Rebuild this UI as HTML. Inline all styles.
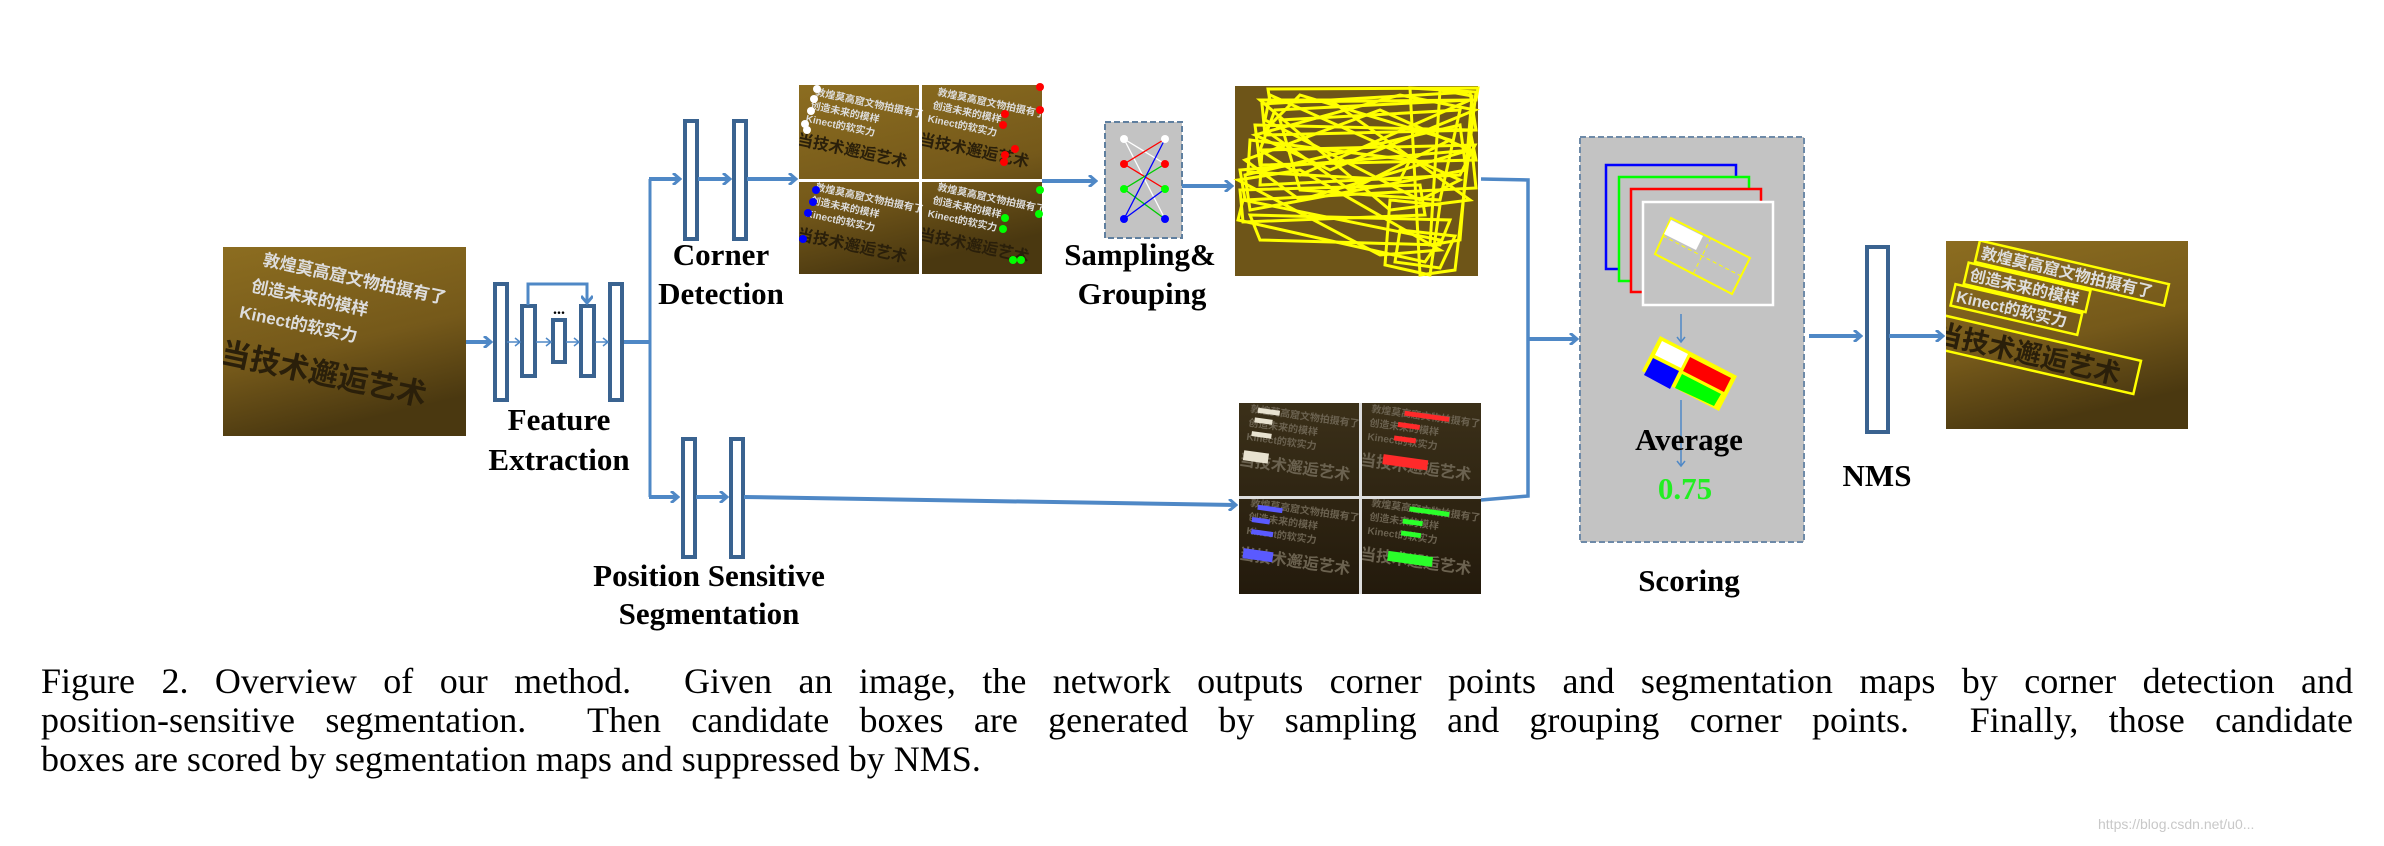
<!DOCTYPE html>
<html><head><meta charset="utf-8"><style>
html,body{margin:0;padding:0;background:#fff;}
body{width:2384px;height:846px;position:relative;overflow:hidden;}
svg{position:absolute;left:0;top:0;}
.cap{position:absolute;left:41px;width:2312px;font-family:"Liberation Serif",serif;font-size:36px;line-height:39px;color:#000;white-space:nowrap;}
.j{text-align:justify;text-align-last:justify;white-space:normal;}
.lb{font-family:"Liberation Serif",serif;font-weight:bold;font-size:31px;fill:#000;}
.cn{font-family:"Liberation Sans","Noto Sans CJK SC",sans-serif;font-weight:bold;}
</style></head><body>
<svg width="2384" height="846" viewBox="0 0 2384 846">
<defs>
<marker id="ah" markerWidth="10" markerHeight="12" refX="8" refY="6" orient="auto" markerUnits="userSpaceOnUse">
<polyline points="1,0 8,6 1,12" fill="none" stroke="#4f88c6" stroke-width="3"/></marker>
<marker id="as" markerWidth="8" markerHeight="10" refX="6" refY="5" orient="auto" markerUnits="userSpaceOnUse">
<polyline points="1,1 6,5 1,9" fill="none" stroke="#4f88c6" stroke-width="1.5"/></marker>
<linearGradient id="br" x1="0" y1="0" x2="0.3" y2="1"><stop offset="0" stop-color="#8c6d20"/><stop offset="0.6" stop-color="#75591a"/><stop offset="1" stop-color="#4a3810"/></linearGradient>
<linearGradient id="dk" x1="0" y1="0" x2="0" y2="1"><stop offset="0" stop-color="#3b3019"/><stop offset="1" stop-color="#231a0c"/></linearGradient>
<clipPath id="c1"><rect x="223" y="247" width="243" height="189"/></clipPath>
<clipPath id="c2"><rect x="799" y="85" width="243" height="189"/></clipPath>
<clipPath id="c3"><rect x="1239" y="403" width="242" height="191"/></clipPath>
<clipPath id="c4"><rect x="1946" y="241" width="242" height="188"/></clipPath>
</defs>

<rect x="223" y="247" width="243" height="189" fill="url(#br)"/>
<g class="cn" clip-path="url(#c1)"><g transform="translate(262,265) rotate(12)" fill="#ddd">
<text x="0" y="0" font-size="17">敦煌莫高窟文物拍摄有了</text>
<text x="-6" y="28" font-size="17">创造未来的模样</text>
<text x="-12" y="56" font-size="17">Kinect的软实力</text>
<text x="-22" y="104" font-size="30" fill="#2a1f0a">当技术邂逅艺术</text>
</g></g>

<line x1="466" y1="342" x2="491" y2="342" stroke="#4f88c6" stroke-width="4" marker-end="url(#ah)"/>
<g fill="#fff" stroke="#3a6390" stroke-width="4">
<rect x="495" y="284" width="12" height="116"/>
<rect x="522" y="306" width="13" height="70"/>
<rect x="553" y="320" width="12" height="42"/>
<rect x="581" y="306" width="13" height="70"/>
<rect x="610" y="284" width="12" height="116"/>
</g>
<g stroke="#4f88c6" stroke-width="1.5" fill="none">
<line x1="507" y1="342" x2="520" y2="342" marker-end="url(#as)"/>
<line x1="536" y1="342" x2="551" y2="342" marker-end="url(#as)"/>
<line x1="566" y1="342" x2="579" y2="342" marker-end="url(#as)"/>
<line x1="595" y1="342" x2="608" y2="342" marker-end="url(#as)"/>
</g>
<polyline points="528,305 528,284 587,284 587,303" fill="none" stroke="#4f88c6" stroke-width="3" marker-end="url(#ah)"/>
<text x="553" y="314" font-size="16" font-family="Liberation Serif" font-weight="bold">...</text>
<text class="lb" x="559" y="430" text-anchor="middle">Feature</text>
<text class="lb" x="559" y="470" text-anchor="middle">Extraction</text>

<polyline points="624,342 650,342" fill="none" stroke="#4f88c6" stroke-width="4"/>
<polyline points="650,179 650,497" fill="none" stroke="#4f88c6" stroke-width="3"/>
<line x1="649" y1="179" x2="680" y2="179" stroke="#4f88c6" stroke-width="4" marker-end="url(#ah)"/>
<line x1="649" y1="497" x2="678" y2="497" stroke="#4f88c6" stroke-width="4" marker-end="url(#ah)"/>

<g fill="#fff" stroke="#3a6390" stroke-width="4">
<rect x="685" y="121" width="12" height="118"/>
<rect x="734" y="121" width="12" height="118"/>
<rect x="683" y="439" width="12" height="118"/>
<rect x="731" y="439" width="12" height="118"/>
</g>
<line x1="698" y1="179" x2="730" y2="179" stroke="#4f88c6" stroke-width="4" marker-end="url(#ah)"/>
<line x1="747" y1="179" x2="796" y2="179" stroke="#4f88c6" stroke-width="4" marker-end="url(#ah)"/>
<line x1="696" y1="497" x2="727" y2="497" stroke="#4f88c6" stroke-width="4" marker-end="url(#ah)"/>
<text class="lb" x="721" y="265" text-anchor="middle">Corner</text>
<text class="lb" x="721" y="304" text-anchor="middle">Detection</text>
<text class="lb" x="709" y="586" text-anchor="middle">Position Sensitive</text>
<text class="lb" x="709" y="624" text-anchor="middle">Segmentation</text>

<g>
<rect x="799" y="85" width="243" height="189" fill="url(#br)"/>
<g class="cn" fill="#ddd" font-size="10" clip-path="url(#c2)">
<g transform="translate(815,95) rotate(12)"><text>敦煌莫高窟文物拍摄有了</text><text x="-2" y="14">创造未来的模样</text><text x="-4" y="28">Kinect的软实力</text><text x="-8" y="52" font-size="16" fill="#2a1f0a">当技术邂逅艺术</text></g>
<g transform="translate(937,95) rotate(12)"><text>敦煌莫高窟文物拍摄有了</text><text x="-2" y="14">创造未来的模样</text><text x="-4" y="28">Kinect的软实力</text><text x="-8" y="52" font-size="16" fill="#2a1f0a">当技术邂逅艺术</text></g>
<g transform="translate(815,190) rotate(12)"><text>敦煌莫高窟文物拍摄有了</text><text x="-2" y="14">创造未来的模样</text><text x="-4" y="28">Kinect的软实力</text><text x="-8" y="52" font-size="16" fill="#2a1f0a">当技术邂逅艺术</text></g>
<g transform="translate(937,190) rotate(12)"><text>敦煌莫高窟文物拍摄有了</text><text x="-2" y="14">创造未来的模样</text><text x="-4" y="28">Kinect的软实力</text><text x="-8" y="52" font-size="16" fill="#2a1f0a">当技术邂逅艺术</text></g>
</g>
<rect x="919" y="85" width="3" height="189" fill="#fff"/>
<rect x="799" y="179" width="243" height="3" fill="#fff"/>
<g fill="#fff"><circle cx="817" cy="89" r="4"/><circle cx="814" cy="99" r="4"/><circle cx="811" cy="111" r="4"/><circle cx="805" cy="124" r="4"/><circle cx="807" cy="130" r="4"/></g>
<g fill="#f00"><circle cx="1040" cy="87" r="4"/><circle cx="1040" cy="110" r="4"/><circle cx="1005" cy="114" r="4"/><circle cx="1003" cy="125" r="4"/><circle cx="1015" cy="149" r="4"/><circle cx="1005" cy="155" r="4"/><circle cx="1004" cy="162" r="4"/></g>
<g fill="#00f"><circle cx="816" cy="190" r="4"/><circle cx="813" cy="202" r="4"/><circle cx="808" cy="213" r="4"/><circle cx="803" cy="239" r="4"/></g>
<g fill="#0f0"><circle cx="1040" cy="190" r="4"/><circle cx="1005" cy="218" r="4"/><circle cx="1039" cy="214" r="4"/><circle cx="1003" cy="229" r="4"/><circle cx="1013" cy="260" r="4"/><circle cx="1021" cy="260" r="4"/></g>
</g>

<line x1="1042" y1="181" x2="1096" y2="181" stroke="#4f88c6" stroke-width="4" marker-end="url(#ah)"/>
<rect x="1105" y="122" width="77" height="116" fill="#c3c3c3" stroke="#5f7f9f" stroke-width="2" stroke-dasharray="6,3"/>
<g stroke-width="1.3">
<line x1="1124" y1="139" x2="1165" y2="164" stroke="#fff"/>
<line x1="1124" y1="139" x2="1165" y2="219" stroke="#fff"/>
<line x1="1124" y1="164" x2="1165" y2="139" stroke="#f00"/>
<line x1="1124" y1="164" x2="1165" y2="189" stroke="#f00"/>
<line x1="1124" y1="189" x2="1165" y2="164" stroke="#0c0"/>
<line x1="1124" y1="189" x2="1165" y2="219" stroke="#0c0"/>
<line x1="1124" y1="219" x2="1165" y2="139" stroke="#00f"/>
<line x1="1124" y1="219" x2="1165" y2="189" stroke="#00f"/>
</g>
<circle cx="1124" cy="139" r="4" fill="#fff"/><circle cx="1165" cy="139" r="4" fill="#fff"/>
<circle cx="1124" cy="164" r="4" fill="#f00"/><circle cx="1165" cy="164" r="4" fill="#f00"/>
<circle cx="1124" cy="189" r="4" fill="#0f0"/><circle cx="1165" cy="189" r="4" fill="#0f0"/>
<circle cx="1124" cy="219" r="4" fill="#00f"/><circle cx="1165" cy="219" r="4" fill="#00f"/>
<text class="lb" x="1140" y="265" text-anchor="middle">Sampling&amp;</text>
<text class="lb" x="1142" y="304" text-anchor="middle">Grouping</text>

<line x1="1182" y1="186" x2="1232" y2="186" stroke="#4f88c6" stroke-width="4" marker-end="url(#ah)"/>
<rect x="1235" y="86" width="243" height="190" fill="#6e5518"/>
<g fill="none" stroke="#ffff00" stroke-width="3">
<polygon points="1268,89 1478,88 1476,100 1270,102"/>
<polygon points="1262,104 1470,92 1476,130 1265,135"/>
<polygon points="1255,125 1470,130 1476,160 1260,165"/>
<polygon points="1250,140 1410,160 1400,180 1248,172"/>
<polygon points="1240,170 1472,150 1476,188 1245,200"/>
<polygon points="1240,190 1420,185 1425,215 1243,222"/>
<polygon points="1243,200 1440,240 1425,262 1238,220"/>
<polygon points="1250,215 1450,220 1440,245 1260,240"/>
<polygon points="1400,230 1455,236 1440,268 1395,262"/>
<polygon points="1410,88 1476,92 1455,270 1420,275"/>
<polygon points="1440,90 1472,96 1460,240 1430,245"/>
<polygon points="1270,95 1460,180 1420,200 1265,120"/>
<polygon points="1275,110 1470,100 1300,175 1260,150"/>
<polygon points="1300,95 1450,140 1350,190 1265,130"/>
<polygon points="1245,160 1380,110 1470,150 1300,200"/>
<polygon points="1260,100 1330,100 1470,200 1390,210"/>
<polygon points="1238,180 1300,170 1440,250 1380,255"/>
<polygon points="1280,120 1460,110 1440,200 1300,190"/>
<polygon points="1255,135 1400,95 1475,110 1330,170"/>
<polygon points="1245,175 1460,125 1466,170 1250,210"/>
<polygon points="1390,200 1440,205 1430,275 1385,265"/>
<polygon points="1262,150 1475,145 1460,175 1260,185"/>
</g>

<rect x="1239" y="403" width="242" height="191" fill="url(#dk)"/>
<g class="cn" fill="#6b6250" font-size="10" clip-path="url(#c3)">
<g transform="translate(1250,412) rotate(8)"><text>敦煌莫高窟文物拍摄有了</text><text y="14">创造未来的模样</text><text y="28">Kinect的软实力</text><text x="-4" y="54" font-size="16">当技术邂逅艺术</text></g>
<g transform="translate(1371,412) rotate(8)"><text>敦煌莫高窟文物拍摄有了</text><text y="14">创造未来的模样</text><text y="28">Kinect的软实力</text><text x="-4" y="54" font-size="16">当技术邂逅艺术</text></g>
<g transform="translate(1250,506) rotate(8)"><text>敦煌莫高窟文物拍摄有了</text><text y="14">创造未来的模样</text><text y="28">Kinect的软实力</text><text x="-4" y="54" font-size="16">当技术邂逅艺术</text></g>
<g transform="translate(1371,506) rotate(8)"><text>敦煌莫高窟文物拍摄有了</text><text y="14">创造未来的模样</text><text y="28">Kinect的软实力</text><text x="-4" y="54" font-size="16">当技术邂逅艺术</text></g>
</g>
<g fill="#e8e2d0" transform="rotate(8 1260 410)"><rect x="1258" y="408" width="22" height="5"/><rect x="1256" y="418" width="18" height="5"/><rect x="1255" y="432" width="20" height="5"/><rect x="1250" y="452" width="25" height="10"/></g>
<g fill="#ff2a2a" transform="rotate(8 1400 410)"><rect x="1405" y="410" width="45" height="5"/><rect x="1400" y="422" width="22" height="5"/><rect x="1398" y="436" width="22" height="5"/><rect x="1390" y="456" width="45" height="10"/></g>
<g fill="#5a5aff" transform="rotate(8 1260 505)"><rect x="1258" y="505" width="25" height="5"/><rect x="1254" y="518" width="18" height="5"/><rect x="1255" y="530" width="22" height="5"/><rect x="1250" y="550" width="30" height="10"/></g>
<g fill="#2aff2a" transform="rotate(8 1400 505)"><rect x="1410" y="505" width="40" height="5"/><rect x="1405" y="518" width="20" height="5"/><rect x="1405" y="530" width="20" height="5"/><rect x="1395" y="552" width="45" height="10"/></g>
<rect x="1359" y="403" width="3" height="191" fill="#ddd"/>
<rect x="1239" y="496" width="242" height="3" fill="#ddd"/>

<line x1="744" y1="497" x2="1236" y2="505" stroke="#4f88c6" stroke-width="4" marker-end="url(#ah)"/>
<polyline points="1481,179 1528,180 1528,496 1481,500" fill="none" stroke="#4f88c6" stroke-width="3.5"/>
<line x1="1528" y1="339" x2="1577" y2="339" stroke="#4f88c6" stroke-width="4" marker-end="url(#ah)"/>

<rect x="1580" y="137" width="224" height="405" fill="#c3c3c3" stroke="#6e8aa8" stroke-width="2" stroke-dasharray="6,3"/>
<rect x="1606" y="165" width="130" height="104" fill="none" stroke="#00f" stroke-width="2.5"/>
<rect x="1619" y="177" width="130" height="104" fill="#c3c3c3" stroke="#0f0" stroke-width="2.5"/>
<rect x="1631" y="189" width="130" height="103" fill="#c3c3c3" stroke="#f00" stroke-width="2.5"/>
<rect x="1643" y="202" width="130" height="103" fill="#c3c3c3" stroke="#fff" stroke-width="2.5"/>
<polygon points="1671,218 1750,258 1732,294 1655,254" fill="none" stroke="#ff0" stroke-width="2"/>
<polygon points="1671,220 1703,236 1696,250 1664,234" fill="#fff"/>
<line x1="1663" y1="236" x2="1741" y2="276" stroke="#ff0" stroke-width="1" stroke-dasharray="4,3"/>
<line x1="1711" y1="238" x2="1693" y2="274" stroke="#ff0" stroke-width="1" stroke-dasharray="4,3"/>
<line x1="1681" y1="314" x2="1681" y2="342" stroke="#4f88c6" stroke-width="1.5" marker-end="url(#as)"/>
<polygon points="1660,336 1737,376 1719,411 1642,371" fill="#ff0"/>
<polygon points="1662,341 1688,354 1681,368 1655,355" fill="#fff"/>
<polygon points="1690,357 1731,378 1724,392 1683,371" fill="#f00"/>
<polygon points="1653,358 1679,371 1670,389 1644,375" fill="#00f"/>
<polygon points="1682,374 1721,394 1714,406 1675,388" fill="#0f0"/>
<line x1="1681" y1="400" x2="1681" y2="466" stroke="#4f88c6" stroke-width="1.5" marker-end="url(#as)"/>
<text class="lb" x="1689" y="450" text-anchor="middle">Average</text>
<text class="lb" x="1685" y="499" text-anchor="middle" style="fill:#22ee22">0.75</text>
<text class="lb" x="1689" y="591" text-anchor="middle">Scoring</text>

<line x1="1809" y1="336" x2="1861" y2="336" stroke="#4f88c6" stroke-width="4" marker-end="url(#ah)"/>
<rect x="1867" y="247" width="21" height="185" fill="#fff" stroke="#3a6390" stroke-width="4"/>
<line x1="1889" y1="336" x2="1943" y2="336" stroke="#4f88c6" stroke-width="4" marker-end="url(#ah)"/>
<text class="lb" x="1877" y="486" text-anchor="middle">NMS</text>

<rect x="1946" y="241" width="242" height="188" fill="url(#br)"/>
<g class="cn" clip-path="url(#c4)"><g transform="translate(1980,258) rotate(13)">
<polygon points="-4,-17 190,-17 190,5 -4,5" fill="none" stroke="#ff0" stroke-width="2.5"/>
<text x="0" y="0" font-size="16" fill="#ddd">敦煌莫高窟文物拍摄有了</text>
<polygon points="-10,7 115,7 115,29 -10,29" fill="none" stroke="#ff0" stroke-width="2.5"/>
<text x="-6" y="24" font-size="16" fill="#ddd">创造未来的模样</text>
<polygon points="-18,31 112,31 112,53 -18,53" fill="none" stroke="#ff0" stroke-width="2.5"/>
<text x="-14" y="48" font-size="16" fill="#ddd">Kinect的软实力</text>
<polygon points="-30,64 180,64 180,98 -30,98" fill="none" stroke="#ff0" stroke-width="2.5"/>
<text x="-26" y="92" font-size="27" fill="#2a1f0a">当技术邂逅艺术</text>
</g></g>
</svg>

<div class="cap j" style="top:662px;">Figure 2. Overview of our method. &nbsp;Given an image, the network outputs corner points and segmentation maps by corner detection and</div>
<div class="cap j" style="top:701px;">position-sensitive segmentation. &nbsp;Then candidate boxes are generated by sampling and grouping corner points. &nbsp;Finally, those candidate</div>
<div class="cap" style="top:740px;">boxes are scored by segmentation maps and suppressed by NMS.</div>
<div style="position:absolute;left:2098px;top:816px;font-family:'Liberation Sans',sans-serif;font-size:14px;color:#c8c8c8;">https://blog.csdn.net/u0...</div>
</body></html>
